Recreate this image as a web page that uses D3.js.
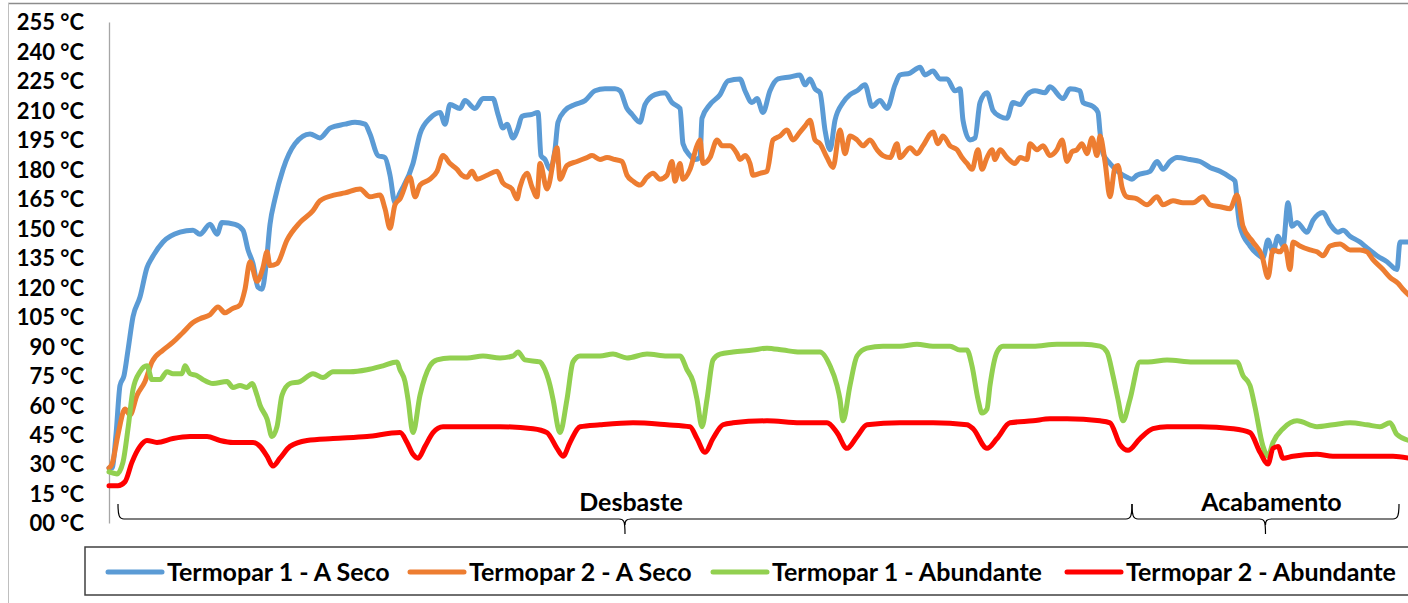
<!DOCTYPE html>
<html>
<head>
<meta charset="utf-8">
<script src="https://cdn.jsdelivr.net/npm/d3@7"></script>
<style>
  body { margin: 0; background: #fff; }
  svg { display: block; font-family: Lato, "Open Sans", sans-serif; }
</style>
</head>
<body>
<div id="chart"></div>
<script>
// data: [time, °C]
var seco1 = [[0,28],[3,28],[7,45],[11,70],[15,75],[19,88],[24,105],[31,115],[38,130],[43,135],[54,143],[71,148],[84,149],[91,147],[101,152],[108,147],[113,153],[126,152],[134,149],[139,139],[144,132],[149,120],[153,119],[157,131],[161,152],[166,165],[174,180],[186,193],[201,198],[211,196],[221,201],[236,203],[246,204],[256,203],[261,198],[269,187],[276,186],[281,177],[286,163],[291,168],[304,183],[311,198],[321,206],[331,209],[336,203],[341,213],[351,211],[356,215],[366,211],[374,216],[384,216],[389,208],[394,201],[398,203],[404,196],[409,201],[413,207],[423,208],[429,209],[432,187],[436,185],[441,180],[446,190],[449,204],[456,210],[466,213],[476,215],[486,220],[496,221],[506,221],[511,220],[518,211],[523,208],[531,204],[536,213],[546,218],[556,219],[563,214],[571,211],[574,193],[581,187],[586,185],[591,186],[593,206],[601,213],[611,218],[619,225],[631,226],[636,220],[643,214],[648,216],[654,209],[661,220],[669,226],[681,227],[691,228],[696,223],[701,226],[706,221],[711,219],[716,200],[721,190],[726,205],[734,214],[741,218],[748,220],[756,223],[763,212],[771,215],[778,211],[786,223],[791,228],[801,229],[811,232],[816,228],[824,230],[831,226],[838,226],[846,220],[851,221],[854,205],[861,195],[866,196],[871,214],[878,219],[884,210],[891,207],[898,206],[904,214],[911,213],[918,218],[926,220],[936,219],[941,222],[954,216],[961,221],[971,220],[974,214],[984,212],[989,209],[991,199],[994,188],[1001,183],[1011,178],[1018,176],[1023,175],[1028,177],[1041,179],[1048,184],[1054,180],[1061,184],[1068,186],[1081,185],[1091,184],[1101,181],[1111,179],[1121,176],[1126,174],[1129,158],[1131,151],[1141,141],[1148,137],[1154,135],[1159,144],[1164,138],[1169,146],[1174,141],[1179,163],[1183,151],[1188,153],[1198,148],[1204,154],[1214,158],[1221,152],[1229,148],[1234,149],[1241,146],[1251,143],[1258,140],[1268,136],[1278,133],[1288,129],[1291,143],[1300,143]];

var seco2 = [[0,28],[3,30],[9,45],[16,58],[21,55],[28,65],[36,72],[43,82],[54,88],[64,92],[74,97],[84,102],[91,104],[101,106],[109,110],[116,107],[123,109],[131,111],[136,119],[141,133],[148,123],[154,130],[158,138],[161,131],[168,132],[178,144],[191,153],[204,159],[211,164],[226,167],[236,168],[251,170],[261,166],[271,167],[276,160],[281,150],[286,162],[291,165],[301,176],[306,166],[311,172],[321,175],[328,179],[334,187],[341,183],[348,180],[353,177],[358,176],[363,179],[368,175],[378,177],[388,179],[394,173],[403,170],[408,165],[411,171],[418,178],[423,171],[428,166],[431,183],[438,170],[448,191],[451,175],[458,182],[468,184],[478,186],[483,187],[491,185],[498,186],[506,185],[513,184],[518,177],[524,174],[531,172],[538,176],[544,178],[551,175],[558,177],[563,184],[566,174],[571,183],[574,175],[581,180],[588,192],[591,195],[594,183],[601,186],[608,195],[613,192],[621,192],[628,188],[631,185],[636,187],[641,183],[644,177],[651,178],[658,179],[664,195],[671,197],[678,200],[684,195],[691,199],[696,202],[701,205],[706,195],[711,193],[718,186],[724,181],[731,200],[736,188],[741,197],[748,195],[754,192],[761,195],[768,190],[774,187],[781,186],[788,193],[791,186],[801,191],[808,188],[814,192],[824,199],[829,193],[834,197],[841,192],[848,190],[853,186],[858,183],[863,180],[869,190],[873,180],[878,186],[883,190],[886,185],[891,190],[898,186],[906,183],[911,186],[918,185],[921,193],[928,190],[934,192],[941,187],[948,190],[953,195],[958,184],[963,189],[968,190],[973,193],[978,188],[983,196],[988,187],[991,197],[996,184],[1001,166],[1006,181],[1009,182],[1013,171],[1018,166],[1028,165],[1038,162],[1048,166],[1054,162],[1064,164],[1074,163],[1084,163],[1094,166],[1101,162],[1111,161],[1121,160],[1128,167],[1134,151],[1144,143],[1153,136],[1159,125],[1164,139],[1171,138],[1176,141],[1181,129],[1184,143],[1191,141],[1201,139],[1208,138],[1214,136],[1221,141],[1231,142],[1241,139],[1251,139],[1258,138],[1264,134],[1274,129],[1281,125],[1289,122],[1294,119],[1300,116]];

var abund1 = [[0,26],[8,25],[14,31],[19,48],[24,68],[31,77],[38,80],[43,73],[51,73],[58,77],[64,76],[73,76],[76,80],[81,76],[88,75],[94,73],[104,71],[118,72],[124,69],[131,70],[138,69],[143,71],[148,65],[151,60],[158,53],[163,44],[168,49],[173,65],[181,71],[191,72],[204,76],[214,74],[224,77],[241,77],[258,78],[274,80],[288,82],[291,78],[296,72],[299,63],[304,46],[311,65],[321,80],[328,83],[341,84],[358,84],[374,85],[391,84],[404,85],[409,87],[416,83],[431,82],[434,80],[441,70],[444,63],[451,46],[458,63],[464,82],[471,85],[491,85],[504,86],[518,84],[538,86],[558,85],[571,85],[578,78],[584,72],[588,63],[593,49],[598,63],[604,83],[611,86],[624,87],[644,88],[658,89],[674,88],[691,87],[711,87],[721,80],[728,70],[731,63],[734,52],[741,70],[748,85],[758,89],[774,90],[791,90],[808,91],[824,90],[841,90],[851,88],[858,88],[863,80],[869,63],[873,56],[878,58],[881,70],[888,87],[894,90],[924,90],[948,91],[974,91],[991,90],[998,87],[1004,75],[1009,63],[1014,52],[1021,63],[1031,82],[1039,82],[1058,83],[1084,82],[1104,82],[1128,82],[1134,75],[1141,70],[1146,59],[1154,39],[1159,34],[1164,41],[1174,48],[1188,52],[1208,49],[1224,50],[1241,51],[1258,50],[1271,49],[1281,51],[1288,45],[1300,42]];

var abund2 = [[0,19],[9,19],[16,21],[23,31],[31,39],[38,42],[48,41],[64,43],[81,44],[98,44],[111,42],[124,41],[144,41],[151,39],[158,34],[164,29],[171,33],[181,39],[198,42],[224,43],[258,44],[291,46],[298,41],[304,35],[309,33],[316,39],[324,46],[334,49],[358,49],[391,49],[424,48],[438,46],[448,38],[454,34],[461,41],[471,49],[491,50],[524,51],[558,50],[581,49],[588,43],[596,36],[604,43],[614,50],[624,51],[658,52],[691,51],[718,51],[728,46],[738,38],[748,44],[758,50],[791,51],[824,51],[858,50],[864,48],[878,38],[888,43],[901,51],[924,52],[941,53],[958,53],[991,52],[1001,51],[1011,40],[1019,37],[1031,43],[1044,48],[1058,49],[1091,49],[1124,48],[1141,46],[1151,36],[1159,30],[1164,38],[1169,39],[1174,33],[1184,34],[1208,35],[1224,34],[1258,34],[1284,34],[1300,33]];

var seriesNames = ["Termopar 1 - A Seco", "Termopar 2 - A Seco", "Termopar 1 - Abundante", "Termopar 2 - Abundante"];
var colors = ["#5B9BD5", "#ED7D31", "#92D050", "#FF0000"];
var yTicks = [0, 15, 30, 45, 60, 75, 90, 105, 120, 135, 150, 165, 180, 195, 210, 225, 240, 255];
// phases: [label, start time, end time]
var phases = [["Desbaste", 9, 1023], ["Acabamento", 1023, 1290]];

var W = 1408, H = 603;
var svg = d3.select("#chart").append("svg")
    .attr("width", W)
    .attr("height", H);

// frame
svg.append("line").attr("x1", 8).attr("x2", W).attr("y1", 3.5).attr("y2", 3.5)
    .attr("stroke", "#8c8c8c").attr("stroke-width", 1.5);
svg.append("line").attr("x1", 8.5).attr("x2", 8.5).attr("y1", 3).attr("y2", H)
    .attr("stroke", "#bfbfbf").attr("stroke-width", 1);

var x = d3.scaleLinear().domain([0, 1300]).range([109, 1409]);
var y = d3.scaleLinear().domain([0, 255]).range([523, 22]);

// y axis
var yAxis = svg.append("g")
    .attr("transform", "translate(109,0)")
    .call(d3.axisLeft(y).tickValues(yTicks).tickSize(0).tickPadding(25)
        .tickFormat(function(d) { return d3.format("02d")(d) + " °C"; }));
yAxis.select(".domain").attr("stroke", "#a6a6a6").attr("stroke-width", 1.3);
yAxis.selectAll("text")
    .attr("font-family", "Lato, sans-serif")
    .attr("font-size", 22)
    .attr("font-weight", "bold")
    .attr("fill", "#000")
    .attr("dy", "0.36em");

// lines
var line = d3.line()
    .x(function(d) { return x(d[0]); })
    .y(function(d) { return y(d[1]); })
    .curve(d3.curveMonotoneX);

var allSeries = [seco1, seco2, abund1, abund2];
svg.append("g").selectAll("path")
    .data(allSeries)
    .enter()
    .append("path")
    .attr("d", line)
    .attr("fill", "none")
    .attr("stroke", function(d, i) { return colors[i]; })
    .attr("stroke-width", 5)
    .attr("stroke-linejoin", "round")
    .attr("stroke-linecap", "round");

// braces under the curves
var braceY = 519, braceTop = 504, braceTip = 534;
function brace(x0, x1) {
    var xm = (x0 + x1) / 2;
    return "M" + x0 + "," + braceTop +
        " C" + x0 + "," + (braceY - 4) + " " + (x0 + 1) + "," + braceY + " " + (x0 + 6) + "," + braceY +
        " L" + (xm - 6) + "," + braceY +
        " C" + (xm - 1) + "," + braceY + " " + xm + "," + (braceY + 2) + " " + xm + "," + braceTip +
        " M" + xm + "," + (braceY + 6) +
        " C" + xm + "," + (braceY + 2) + " " + (xm + 1) + "," + braceY + " " + (xm + 6) + "," + braceY +
        " L" + (x1 - 6) + "," + braceY +
        " C" + (x1 - 1) + "," + braceY + " " + x1 + "," + (braceY - 4) + " " + x1 + "," + braceTop;
}
var ph = svg.append("g");
ph.selectAll("path")
    .data(phases)
    .enter()
    .append("path")
    .attr("d", function(d) { return brace(x(d[1]), x(d[2])); })
    .attr("fill", "none")
    .attr("stroke", "#000")
    .attr("stroke-width", 1.2);
ph.selectAll("text")
    .data(phases)
    .enter()
    .append("text")
    .attr("x", function(d) { return (x(d[1]) + x(d[2])) / 2 + 6; })
    .attr("y", 511)
    .attr("text-anchor", "middle")
    .attr("font-size", 25)
    .attr("font-weight", "bold")
    .text(function(d) { return d[0]; });

// legend
var legend = svg.append("g");
legend.append("rect")
    .attr("x", 85).attr("y", 547)
    .attr("width", 1340).attr("height", 48)
    .attr("fill", "none")
    .attr("stroke", "#404040")
    .attr("stroke-width", 1.5);
var legendX = [108, 410, 713, 1067];
var items = legend.selectAll("g.item")
    .data(seriesNames)
    .enter()
    .append("g")
    .attr("class", "item")
    .attr("transform", function(d, i) { return "translate(" + legendX[i] + ",572)"; });
items.append("line")
    .attr("x1", 0).attr("x2", 54)
    .attr("stroke", function(d, i) { return colors[i]; })
    .attr("stroke-width", 5)
    .attr("stroke-linecap", "round");
items.append("text")
    .attr("x", 59)
    .attr("y", 9)
    .attr("font-size", 25)
    .attr("font-weight", "bold")
    .text(function(d) { return d; });
</script>
</body>
</html>
